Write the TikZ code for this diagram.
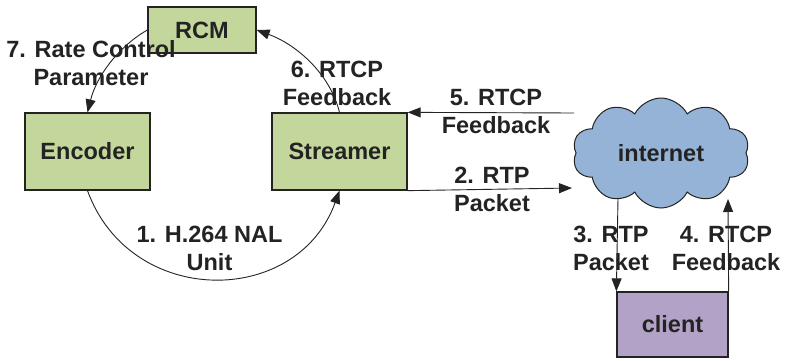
\documentclass[tikz,border=0pt]{standalone}
\usepackage{fontspec}
\setmainfont{Liberation Sans}
\usetikzlibrary{arrows.meta,shapes.symbols}
\definecolor{boxgreen}{RGB}{195,214,155}
\definecolor{boxpurple}{RGB}{178,162,199}
\definecolor{cloudblue}{RGB}{149,179,215}
\definecolor{ink}{RGB}{35,35,35}
\begin{document}
\begin{tikzpicture}[x=1pt,y=1pt,
  every node/.style={font=\fontsize{23.5}{28}\selectfont\bfseries, text=ink},
  block/.style={draw=ink, line width=1.3pt, inner sep=0pt},
  lbl/.style={align=center, inner sep=0pt},
  link/.style={draw=ink, line width=0.9pt, -{Triangle[length=13pt,width=10pt]}}
]
\useasboundingbox (0,0) rectangle (786,360);

% components
\node[block, fill=boxgreen, minimum width=108pt, minimum height=46pt] (rcm) at (202,330) {RCM};
\node[block, fill=boxgreen, minimum width=125pt, minimum height=77pt] (enc) at (87.5,208.5) {Encoder};
\node[block, fill=boxgreen, minimum width=135pt, minimum height=77pt] (strm) at (339.5,208.5) {Streamer};
\node[block, fill=boxpurple, minimum width=111pt, minimum height=65pt] (client) at (672.5,35.5) {client};
\node[cloud, cloud puffs=10, cloud puff arc=125, aspect=1.6, draw=ink, line width=1pt,
      fill=cloudblue, minimum width=177pt, minimum height=110pt, inner sep=0pt] (net) at (661,207) {internet};

% free ends on the cloud outline
\coordinate (n5) at (574,247);
\coordinate (n2) at (572,172);
\coordinate (n3) at (618,162);
\coordinate (n4) at (728,161);

% flows
\draw[link] (enc.south) to[out=-70,in=-110,looseness=1.27] (strm.south);
\draw[link] (strm.south east) -- (n2);
\draw[link] (n3) -- (client.north west);
\draw[link] (client.north east) -- (n4);
\draw[link] (n5) -- (strm.north east);
\draw[link] (strm.north) to[out=104,in=-20,looseness=0.9] (rcm.east);
\draw[link] (rcm.west) to[out=210,in=76,looseness=0.89] (enc.north);

% labels
\node[lbl] (l1) at (209.5,112) {1. H.264 NAL\\Unit};
\node[lbl] (l2) at (492,171) {2. RTP\\Packet};
\node[lbl] (l3) at (611,111.5) {3. RTP\\Packet};
\node[lbl] (l4) at (726,111.5) {4. RTCP\\Feedback};
\node[lbl] (l5) at (496,249) {5. RTCP\\Feedback};
\node[lbl] (l6) at (337,276.5) {6. RTCP\\Feedback};
\node[lbl] (l7) at (91,296.5) {7. Rate Control\\Parameter};
\end{tikzpicture}
\end{document}
